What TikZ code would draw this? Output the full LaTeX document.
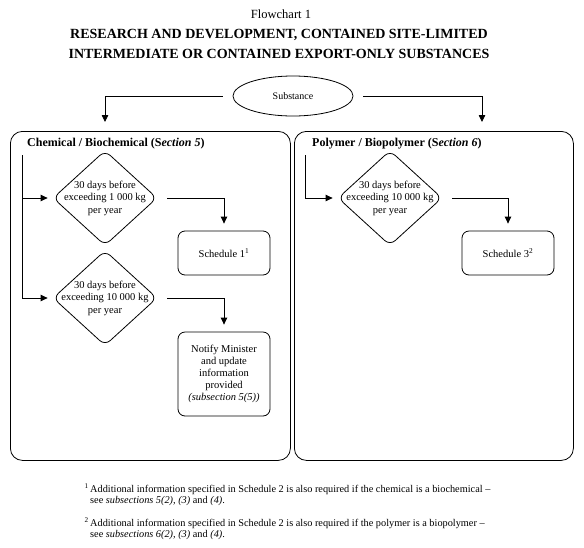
\documentclass[tikz,border=0pt]{standalone}
\usepackage{fontspec}
\setmainfont{Liberation Serif}
\usetikzlibrary{shapes.geometric,arrows.meta}
\tikzset{
  plainline/.style={line width=0.8pt},
  flowline/.style={line width=0.8pt,-{Triangle[length=7pt,width=6.5pt]}},
  groupbox/.style={draw,line width=0.8pt,rounded corners=12pt,anchor=north west,inner sep=0pt},
  grouptitle/.style={anchor=base west,inner sep=0pt,font=\fontsize{12}{14}\selectfont\bfseries},
  subst/.style={draw,ellipse,line width=0.8pt,minimum width=120pt,minimum height=40pt,inner sep=0pt,font=\fontsize{10}{12}\selectfont},
  testdiamond/.style={draw,diamond,line width=0.8pt,rounded corners=7pt,minimum width=104pt,minimum height=95pt,inner sep=0pt},
  difftext/.style={align=center,inner sep=0pt,font=\fontsize{10.5}{12.5}\selectfont},
  stepbox/.style={draw,line width=0.8pt,rounded corners=7pt,minimum width=92pt,align=center,inner sep=0pt,font=\fontsize{10.5}{12}\selectfont},
  notetext/.style={align=left,anchor=north west,inner sep=0pt,font=\fontsize{10.3}{11}\selectfont}
}

\begin{document}
\begin{tikzpicture}[x=1pt,y=-1pt]
  \useasboundingbox (0,0) rectangle (584,547);

  % heading
  \node[anchor=base,inner sep=0pt] (fcnum) at (281,18) {\fontsize{12.5}{15}\selectfont Flowchart 1};
  \node[anchor=north,align=center,inner sep=0pt,font=\fontsize{14}{20}\selectfont\bfseries] (title) at (279,29.5)
    {RESEARCH AND DEVELOPMENT, CONTAINED SITE-LIMITED\\INTERMEDIATE OR CONTAINED EXPORT-ONLY SUBSTANCES};

  % substance
  \node[subst] (sub) at (293,96) {Substance};
  \coordinate (chemin) at (105,131);
  \coordinate (polyin) at (482,131);
  \draw[flowline,shorten <=10pt,shorten >=9pt] (sub.west) -| (chemin);
  \draw[flowline,shorten <=10pt,shorten >=9pt] (sub.east) -| (polyin);

  % left side
  \node[groupbox,minimum width=280pt,minimum height=329pt] (chembox) at (10,131) {};
  \node[grouptitle] (chemtitle) at (27,146) {Chemical / Biochemical (S\textit{ection 5})};
  \coordinate (chemtop) at (22,155);

  \node[testdiamond] (chemsmall) at (105,198) {};
  \node[difftext] (chemsmalltext) at (chemsmall) {30 days before\\exceeding 1 000 kg\\per year};
  \node[testdiamond] (chemlarge) at (105,298) {};
  \node[difftext] (chemlargetext) at (chemlarge) {30 days before\\exceeding 10 000 kg\\per year};

  \draw[flowline,shorten >=5pt] (chemtop) |- (chemlarge.west);
  \draw[flowline,shorten >=5pt] (chemtop |- chemsmall.west) -- (chemsmall.west);

  \node[stepbox,minimum height=44pt] (sched1) at (224,253) {Schedule 1\textsuperscript{1}};
  \node[stepbox,minimum height=84pt] (notify) at (224,374)
    {Notify Minister\\and update\\information\\provided\\\textit{(subsection 5(5))}};
  \draw[flowline,shorten <=10pt,shorten >=7pt] (chemsmall.east) -| (sched1.north);
  \draw[flowline,shorten <=10pt,shorten >=7pt] (chemlarge.east) -| (notify.north);

  % right side
  \node[groupbox,minimum width=279pt,minimum height=329pt] (polybox) at (294,131) {};
  \node[grouptitle] (polytitle) at (312,146) {Polymer / Biopolymer (S\textit{ection 6})};
  \coordinate (polytop) at (305,155);

  \node[testdiamond] (polylarge) at (390,198) {};
  \node[difftext] (polylargetext) at (polylarge) {30 days before\\exceeding 10 000 kg\\per year};
  \draw[flowline,shorten >=5pt] (polytop) |- (polylarge.west);

  \node[stepbox,minimum height=44pt] (sched3) at (508,253) {Schedule 3\textsuperscript{2}};
  \draw[flowline,shorten <=10pt,shorten >=7pt] (polylarge.east) -| (sched3.north);

  % footnotes
  \node[notetext] (note1) at (90,484)
    {\llap{\textsuperscript{1}\hspace{1.5pt}}Additional information specified in Schedule 2 is also required if the chemical is a biochemical --\\
     see \textit{subsections 5(2), (3)} and \textit{(4)}.};
  \node[notetext] (note2) at (90,518)
    {\llap{\textsuperscript{2}\hspace{1.5pt}}Additional information specified in Schedule 2 is also required if the polymer is a biopolymer --\\
     see \textit{subsections 6(2), (3)} and \textit{(4)}.};
\end{tikzpicture}
\end{document}
